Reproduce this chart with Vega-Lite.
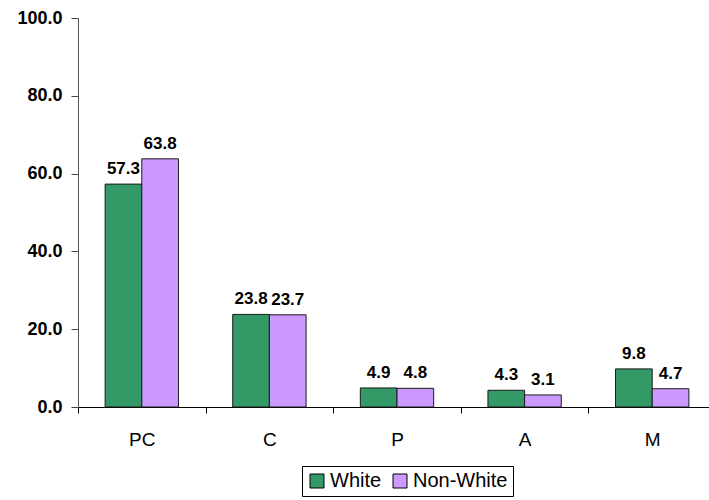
{
  "$schema": "https://vega.github.io/schema/vega-lite/v6.json",
  "width": 638,
  "height": 389,
  "autosize": {"type": "none"},
  "padding": {"left": 78, "top": 18, "right": 0, "bottom": 93},
  "config": {
    "font": "Liberation Sans",
    "view": {"stroke": null}
  },
  "data": {
    "values": [
      {"category": "PC", "group": "White", "value": 57.3},
      {"category": "PC", "group": "Non-White", "value": 63.8},
      {"category": "C", "group": "White", "value": 23.8},
      {"category": "C", "group": "Non-White", "value": 23.7},
      {"category": "P", "group": "White", "value": 4.9},
      {"category": "P", "group": "Non-White", "value": 4.8},
      {"category": "A", "group": "White", "value": 4.3},
      {"category": "A", "group": "Non-White", "value": 3.1},
      {"category": "M", "group": "White", "value": 9.8},
      {"category": "M", "group": "Non-White", "value": 4.7}
    ]
  },
  "encoding": {
    "x": {
      "field": "category",
      "type": "nominal",
      "sort": ["PC", "C", "P", "A", "M"],
      "scale": {"paddingInner": 0, "paddingOuter": 0},
      "axis": {
        "title": null,
        "labelAngle": 0,
        "labelFontSize": 19,
        "labelColor": "#000",
        "labelPadding": 17,
        "tickBand": "extent",
        "tickSize": 6,
        "tickColor": "#000",
        "domainColor": "#000",
        "grid": false
      }
    },
    "xOffset": {
      "field": "group",
      "sort": ["White", "Non-White"],
      "scale": {"paddingInner": 0, "paddingOuter": 0.74}
    },
    "y": {
      "field": "value",
      "type": "quantitative",
      "scale": {"domain": [0, 100], "nice": false},
      "axis": {
        "title": null,
        "values": [0, 20, 40, 60, 80, 100],
        "format": ".1f",
        "labelFontSize": 18,
        "labelFontWeight": "bold",
        "labelColor": "#000",
        "labelPadding": 9,
        "tickSize": 7,
        "tickColor": "#444",
        "domainColor": "#555",
        "grid": false
      }
    }
  },
  "layer": [
    {
      "mark": {"type": "bar", "stroke": "#1a1a1a", "strokeWidth": 1},
      "encoding": {
        "color": {
          "field": "group",
          "type": "nominal",
          "sort": ["White", "Non-White"],
          "scale": {"domain": ["White", "Non-White"], "range": ["#339966", "#CC99FF"]},
          "legend": {
            "title": null,
            "orient": "none",
            "legendX": 224,
            "legendY": 448,
            "direction": "horizontal",
            "symbolType": "square",
            "symbolSize": 196,
            "symbolStrokeColor": "#000",
            "symbolStrokeWidth": 1,
            "symbolOpacity": 1,
            "labelFontSize": 20,
            "labelColor": "#000",
            "labelOffset": 3,
            "columnPadding": 8,
            "padding": 5,
            "strokeColor": "#000",
            "fillColor": "#fff"
          }
        }
      }
    },
    {
      "mark": {"type": "text", "baseline": "bottom", "dy": -6, "fontWeight": "bold", "fontSize": 17, "color": "#000"},
      "encoding": {
        "text": {"field": "value", "type": "quantitative", "format": ".1f"}
      }
    }
  ]
}
